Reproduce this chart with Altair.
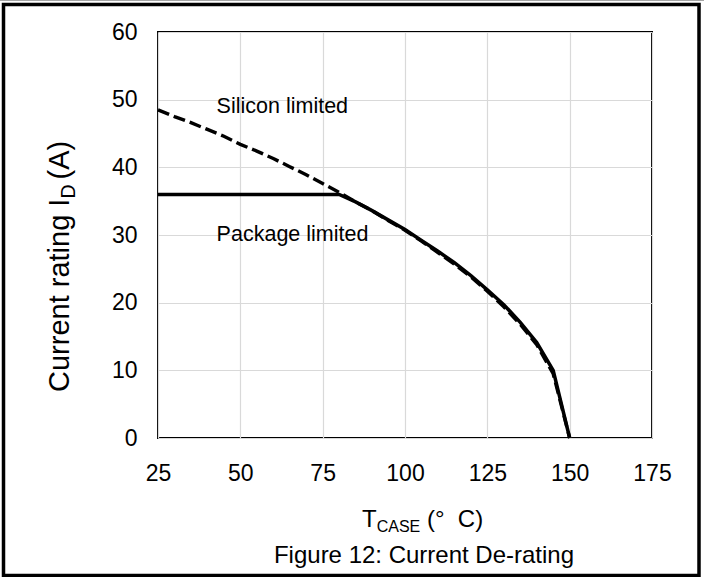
import altair as alt
import pandas as pd

# Case temperature (°C) and drain current rating (A)
temps_si = [25, 30, 35, 40, 45, 50, 55, 60, 65, 70, 75, 80, 85, 90, 95,
            100, 105, 110, 115, 120, 125, 130, 135, 140, 145, 150]
silicon = [48.5, 47.5, 46.6, 45.6, 44.6, 43.4, 42.4, 41.3, 40.1, 38.9, 37.6,
           36.3, 34.9, 33.6, 32.1, 30.7, 29.1, 27.4, 25.7, 23.8, 21.7, 19.4,
           16.8, 13.8, 9.5, 0.0]

temps_pkg = [25, 80, 85, 90, 95, 100, 105, 110, 115, 120, 125, 130, 135,
             140, 145, 150]
package = [36.0, 36.0, 34.9, 33.6, 32.2, 30.8, 29.2, 27.6, 25.9, 24.0, 21.9,
           19.7, 17.1, 14.1, 10.0, 0.0]

x_ticks = [25, 50, 75, 100, 125, 150, 175]
y_ticks = [0, 10, 20, 30, 40, 50, 60]

notes = ["Silicon limited", "Package limited"]
note_x = [42.8, 42.8]
note_y = [48.9, 30.0]

FONT = "Liberation Sans"
NB = "\u00a0"
W, H = 494, 406
PAD_L, PAD_T = 158, 32

si_df = pd.DataFrame({"T": temps_si, "I": silicon})
pkg_df = pd.DataFrame({"T": temps_pkg, "I": package})
note_df = pd.DataFrame({"T": note_x, "I": note_y, "label": notes})

x_scale = alt.Scale(domain=[25, 175], nice=False, zero=False)
y_scale = alt.Scale(domain=[0, 60], nice=False)

x_axis = alt.Axis(values=x_ticks, title=None, grid=True, domain=False,
                  ticks=False, tickSize=0, labelPadding=35,
                  labelBaseline="middle", labelFlush=False, labelOverlap=False)
y_axis = alt.Axis(values=y_ticks, title=None, grid=True, domain=False,
                  ticks=False, tickSize=0, labelPadding=21,
                  labelFlush=False, labelOverlap=False)

silicon_line = alt.Chart(si_df).mark_line(
    color="black", strokeWidth=3.4, strokeDash=[12, 5]
).encode(
    x=alt.X("T:Q", scale=x_scale, axis=x_axis),
    y=alt.Y("I:Q", scale=y_scale, axis=y_axis),
)

package_line = alt.Chart(pkg_df).mark_line(
    color="black", strokeWidth=3.5
).encode(
    x=alt.X("T:Q", scale=x_scale),
    y=alt.Y("I:Q", scale=y_scale),
)

note_text = alt.Chart(note_df).mark_text(
    align="left", baseline="middle", font=FONT, fontSize=21.5, color="black"
).encode(
    x=alt.X("T:Q", scale=x_scale),
    y=alt.Y("I:Q", scale=y_scale),
    text="label:N",
)

one = pd.DataFrame({"k": [0]})


def piece(txt, x, y, size, angle=0):
    kw = dict(text=txt, align="left", baseline="alphabetic", font=FONT,
              fontSize=size, color="black")
    if angle:
        kw["angle"] = angle
    return alt.Chart(one).mark_text(**kw).encode(x=alt.value(x), y=alt.value(y))


# x-axis title: T with CASE subscript, centred near x = 424 px
big, small = 24, 16
x0 = 362 - PAD_L
base = 527 - PAD_T
w_T = 0.611 * big
w_CASE = (0.722 + 0.667 + 0.667 + 0.667) * small
gap = 0.278 * big
x_title = [
    piece("T", x0, base, big),
    piece("CASE", x0 + w_T, base + 4.5, small),
    piece("(°" + NB + NB + "C)", x0 + w_T + w_CASE + gap, base, big),
]

# y-axis title, rotated: "Current rating I" + subscript D + "(A)"
ybig, ysmall = 29, 19.5
yb = 69 - PAD_L
ystart = 392 - PAD_T
len_main = 6.669 * ybig
len_D = 0.722 * ysmall
y_title = [
    piece("Current rating I", yb, ystart, ybig, 270),
    piece("D", yb + 5.5, ystart - len_main, ysmall, 270),
    piece("(A)", yb, ystart - len_main - len_D - 5, ybig, 270),
]

caption = alt.Chart(one).mark_text(
    text="Figure 12: Current De-rating", align="center", baseline="alphabetic",
    font=FONT, fontSize=24, color="black"
).encode(x=alt.value(424 - PAD_L), y=alt.value(563 - PAD_T))

# page frame
frame = alt.Chart(one).mark_rect(
    fillOpacity=0, stroke="black", strokeWidth=3.5
).encode(
    x=alt.value(3.5 - PAD_L), x2=alt.value(699 - PAD_L),
    y=alt.value(4.5 - PAD_T), y2=alt.value(575.5 - PAD_T),
)
top_edge = alt.Chart(one).mark_rule(color="#a6a6a6", strokeWidth=1).encode(
    x=alt.value(-PAD_L), x2=alt.value(704 - PAD_L), y=alt.value(0.5 - PAD_T)
)

chart = alt.layer(
    silicon_line, package_line, note_text, caption, frame, top_edge,
    *x_title, *y_title
).properties(
    width=W, height=H,
    padding={"left": PAD_L, "top": PAD_T, "right": 704 - PAD_L - W,
             "bottom": 577 - PAD_T - H},
    autosize=alt.AutoSizeParams(type="none"),
    background="white",
).configure_view(
    stroke="black", strokeWidth=2
).configure_axis(
    gridColor="#d9d9d9", gridWidth=1.2,
    labelFont=FONT, labelFontSize=23, labelColor="black",
)

chart.save("out.html", embed_options={"renderer": "svg", "actions": False})
